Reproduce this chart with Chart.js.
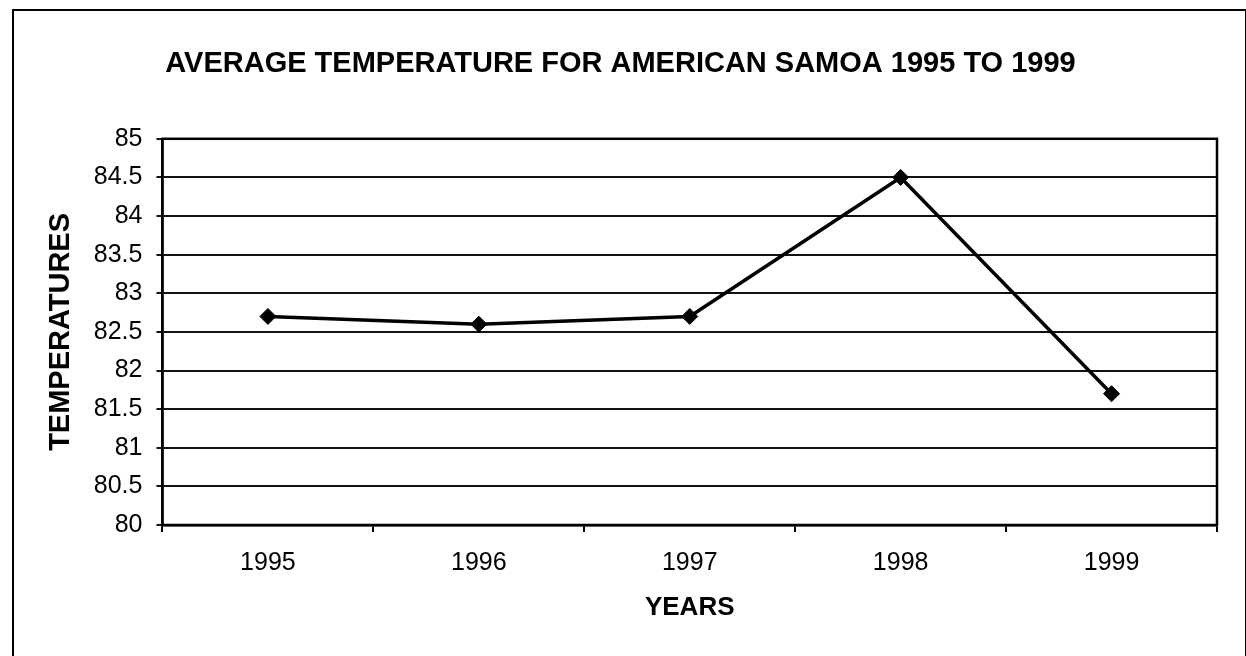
<!DOCTYPE html>
<html>
<head>
<meta charset="utf-8">
<script src="https://cdn.jsdelivr.net/npm/chart.js@4"></script>
<style>
  html, body { margin: 0; padding: 0; background: #fff; overflow: hidden; }
  .wrap { position: relative; width: 1246px; height: 656px; }
  .frame { position: absolute; left: 12px; top: 9px; width: 1231px; height: 700px; border: 2px solid #000; }
  canvas { position: absolute; left: 0; top: 0; }
</style>
</head>
<body>
<div class="wrap">
  <div class="frame"></div>
  <canvas id="chart" width="1246" height="656"></canvas>
</div>
<script>
// данные графика
const YEARS = ["1995", "1996", "1997", "1998", "1999"]
const TEMPS = [82.7, 82.6, 82.7, 84.5, 81.7]
const Y_MIN = 80
const Y_MAX = 85
const Y_STEP = 0.5

const FONT = "'Liberation Sans', Arial, sans-serif"


// рамка вокруг области графика
const plotBorder = {
  id: "plotBorder",
  afterDraw(chart) {
    const a = chart.chartArea
    const ctx = chart.ctx
    ctx.save()
    ctx.strokeStyle = "#000"
    ctx.lineWidth = 2.5
    ctx.strokeRect(a.left, a.top, a.right - a.left, a.bottom - a.top)
    ctx.restore()
  },
}


// создаём график
new Chart(document.getElementById("chart"), {
  type: "line",
  data: {
    labels: YEARS,
    datasets: [{
      data: TEMPS,
      borderColor: "#000",
      backgroundColor: "#000",
      borderWidth: 3.5,
      pointStyle: "rectRot",
      pointRadius: 8,
      pointBorderWidth: 1,
      tension: 0,
    }],
  },
  options: {
    responsive: false,
    animation: false,
    devicePixelRatio: 1,
    layout: { padding: { left: 24, right: 29, top: 23, bottom: 31 } },
    plugins: {
      legend: { display: false },
      tooltip: { enabled: false },
      title: {
        display: true,
        text: "AVERAGE TEMPERATURE FOR AMERICAN SAMOA 1995 TO 1999",
        color: "#000",
        font: { family: FONT, size: 29, weight: "bold" },
        padding: { top: 24, bottom: 57 },
      },
    },
    scales: {
      x: {
        offset: true,
        grid: {
          offset: true,
          drawOnChartArea: false,
          drawTicks: true,
          tickLength: 7,
          color: "#000",
          lineWidth: 2,
        },
        border: { display: true, color: "#000", width: 2.5 },
        ticks: {
          color: "#000",
          padding: 19,
          maxRotation: 0,
          font: { family: FONT, size: 25, lineHeight: 1 },
        },
        title: {
          display: true,
          text: "YEARS",
          color: "#000",
          font: { family: FONT, size: 26, weight: "bold", lineHeight: 1 },
          padding: { top: 0, bottom: 4 },
        },
      },
      y: {
        min: Y_MIN,
        max: Y_MAX,
        grid: {
          color: "#111",
          lineWidth: 2,
          drawTicks: true,
          tickLength: 6,
        },
        border: { display: true, color: "#000", width: 2.5 },
        ticks: {
          stepSize: Y_STEP,
          color: "#000",
          padding: 14,
          font: { family: FONT, size: 25 },
          callback: function (value) {
            return String(value)
          },
        },
        title: {
          display: true,
          text: "TEMPERATURES",
          color: "#000",
          font: { family: FONT, size: 29, weight: "bold" },
          padding: { top: 20, bottom: 1 },
        },
      },
    },
  },
  plugins: [plotBorder],
})
</script>
</body>
</html>
